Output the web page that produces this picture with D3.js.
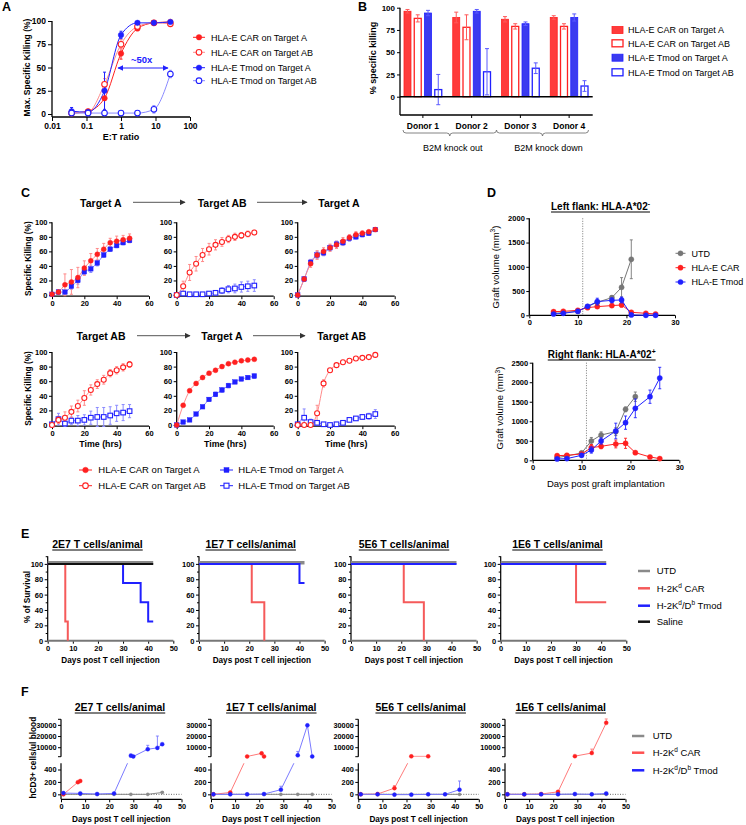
<!DOCTYPE html>
<html><head><meta charset="utf-8">
<script src="https://cdn.jsdelivr.net/npm/d3@7/dist/d3.min.js"></script>
<style>html,body{margin:0;padding:0;background:#fff;}</style>
</head><body>
<script>
// ================= DATA =================
// Panel A
const aRatios=[0.037,0.111,0.333,1,3,9,27];
const aCarA=[1,3,17,65,92,98,99];
const aCarAErr=[1,2,14,6,2,1,1];
const aCarAB=[1,2,32,75,94,98,97];
const aCarABErr=[1,2,6,5,2,1,1];
const aTmodA=[3,2,25,85,98,98,99];
const aTmodAErr=[4,1,20,4,1,1,1];
const aTmodAB=[1,1,1,1,1,5,43];
const aTmodABErr=[1,1,1,1,1,4,4];
const aXTicks=[0.01,0.1,1,10,100];
const aYTicks=[0,25,50,75,100];
const seriesNames=["HLA-E CAR on Target A","HLA-E CAR on Target AB","HLA-E Tmod on Target A","HLA-E Tmod on Target AB"];

// Panel B
const bDonors=["Donor 1","Donor 2","Donor 3","Donor 4"];
const bCarA=[96,89,87,89], bCarAErr=[2,6,3,2];
const bCarAB=[88,78,79,79], bCarABErr=[4,14,3,3];
const bTmodA=[94,96,82,89], bTmodAErr=[3,2,2,4];
const bTmodAB=[8,28,32,12], bTmodABErr=[17,26,6,6];
const bYTicks=[0,25,50,75,100];
const bGroups=["B2M knock out","B2M knock down"];

// Panel C
const cTimes=[0,4,8,12,16,20,24,28,32,36,40,44,48];
const cXTicks=[0,20,40,60];
const cYTicks=[0,20,40,60,80,100];
const cTitles=[["Target A","Target AB","Target A"],["Target AB","Target A","Target AB"]];
// row 1
const c1CarA=[1,4,14,18,24,37,47,56,63,72,74,76,78],   c1CarAErr=[1,3,15,17,14,10,10,8,8,6,7,6,6];
const c1TmodA=[1,4,4,12,20,32,36,44,55,63,68,72,75],   c1TmodAErr=[1,2,2,4,5,4,5,4,3,3,3,3,3];
const c2CarAB=[0,12,31,43,55,63,69,73,77,80,82,84,86], c2CarABErr=[1,7,11,10,9,8,7,6,5,5,4,4,3];
const c2TmodAB=[0,2,1,1,1,2,3,6,8,9,11,12,13],         c2TmodABErr=[1,2,1,1,1,2,3,4,5,6,7,7,8];
const c3CarA=[0,22,43,55,60,65,69,74,79,83,85,87,90],  c3CarAErr=[1,3,5,6,5,5,5,5,4,4,3,2,2];
const c3TmodA=[0,22,45,55,58,65,70,72,78,80,83,85,90], c3TmodAErr=[1,3,4,5,4,4,4,4,4,3,3,3,2];
// row 2
const c4CarAB=[0,7,10,18,26,37,48,56,62,71,75,79,83],  c4CarABErr=[1,5,8,8,8,10,7,6,6,5,5,5,4];
const c4TmodAB=[1,8,2,6,6,7,10,11,11,13,16,17,19],     c4TmodABErr=[1,8,4,5,7,7,9,13,13,12,11,11,9];
const c5CarA=[0,27,47,57,65,71,75,80,84,86,88,89,90],  c5CarAErr=[1,2,2,2,2,2,2,2,1,1,1,1,1];
const c5TmodA=[0,4,7,15,25,35,42,48,54,59,63,65,67],   c5TmodAErr=[1,2,2,2,2,2,3,3,3,2,2,2,3];
const c6CarAB=[0,0,0,16,57,75,82,86,88,91,92,93,96],   c6CarABErr=[1,1,1,11,5,2,2,2,1,1,1,1,1];
const c6TmodAB=[1,10,4,3,1,0,1,3,7,9,11,12,15],        c6TmodABErr=[1,12,4,3,1,1,1,1,2,2,3,4,6];

// Panel D
const dDays=[5,7,10,12,14,17,19,21,24,26];
const dDaysUTD=[5,7,10,12,14,17,19,21];
const dNames=["UTD","HLA-E CAR","HLA-E Tmod"];
const dLeftUTD=[41,55,82,179,268,364,577,1155],       dLeftUTDErr=[10,10,15,30,40,40,200,400];
const dLeftCAR=[75,82,103,158,179,200,213,62,41,27],  dLeftCARErr=[15,15,15,30,30,30,40,10,10,10];
const dLeftTmod=[27,41,82,185,282,309,316,7,0,0],     dLeftTmodErr=[10,10,15,30,70,50,60,5,2,2];
const dRightUTD=[68,111,188,495,648,734,1305,1629],   dRightUTDErr=[20,20,40,90,80,100,60,120];
const dRightCAR=[119,128,162,324,358,418,435,196,85,43], dRightCARErr=[20,20,30,80,60,100,130,30,20,10];
const dRightTmod=[34,43,128,264,495,751,964,1331,1629,2107], dRightTmodErr=[10,15,40,80,80,200,170,240,170,275];
const dLeftTicks=[0,500,1000,1500,2000];
const dRightTicks=[0,500,1000,1500,2000,2500];
const dXTicks=[0,10,20,30];
const dTreatDay=11;

// Panel E
const eTitles=["2E7 T cells/animal","1E7 T cells/animal","5E6 T cells/animal","1E6 T cells/animal"];
const eUtdT=[0,42], eUtdS=[100,100];
const eSalineT=[0,42], eSalineS=[100,100];
const eCarT=[[0,7,8],[0,21,26],[0,21,29],[0,30,42]];
const eCarS=[[100,25,0],[100,50,0],[100,50,0],[100,50,50]];
const eTmodT=[[0,30,37,40,42],[0,40,42],[0,42],[0,42]];
const eTmodS=[[100,75,50,25,25],[100,75,75],[100,100],[100,100]];
const eXTicks=[0,10,20,30,40,50];
const eYTicks=[0,20,40,60,80,100];
const eYMinor=[10,30,50,70,90,110];

// Panel F
const fGrayDays=[1,8,15,22,29,36,42];
const fGrayVals=[[0,0,0,0,0,0,30],[0,0,0,0,0,0,0],[0,0,0,0,0,0,0],[0,0,0,0,0,0,0]];
const fGrayErr=[[0,0,0,0,0,0,15],[0,0,0,0,0,0,0],[0,0,0,0,0,0,0],[0,0,0,0,0,0,0]];
const fRedDays=[[1,7,8],[1,8,15,21,22],[1,8,15,22,29],[1,8,15,22,29,36,42]];
const fRedVals=[[0,195,215],[0,30,1700,4500,1700],[0,5,100,1800,1800],[0,0,5,40,2000,4800,31800]];
const fRedErr=[[0,10,10],[0,10,0,0,0],[0,0,40,0,0],[0,0,0,10,0,3500,3500]];
const fBlueDays=[[1,8,15,22,29,30,36,40,42],[1,8,15,22,29,36,40,42],[1,8,15,22,29,36,42],[1,8,15,22,29,36,42]];
const fBlueVals=[[20,15,5,15,2400,1700,8200,9400,12700],[0,0,0,5,75,2700,29600,1700],[0,0,-5,-5,0,0,75],[0,0,0,0,5,0,15]];
const fBlueErr=[[5,5,3,5,1500,0,3500,10600,0],[0,0,0,0,55,3500,0,0],[0,0,0,0,0,0,140],[0,0,0,0,0,0,8]];
const fTopTicks=[10000,20000,30000];
const fBotTicks=[0,200,400];
const fXTicks=[0,10,20,30,40,50];

// ================= DRAWING =================
const FONT='"Liberation Sans", Arial, Helvetica, sans-serif';
const RED='#ff2020', BLUE='#2020ff', LRED='#ff8a8a', LBLUE='#8a8aff', GRAY='#767676';
const svg=d3.select('body').append('svg').attr('width',746).attr('height',825)
  .attr('font-family',FONT).style('display','block');
const defs=svg.append('defs');
function arrowDef(id,color){
  defs.append('marker').attr('id',id).attr('viewBox','0 0 10 10').attr('refX',9).attr('refY',5)
    .attr('markerWidth',6).attr('markerHeight',6).attr('orient','auto-start-reverse')
    .attr('markerUnits','userSpaceOnUse').append('path').attr('d','M0,0L10,5L0,10z').attr('fill',color);
}
arrowDef('arrK','#333'); arrowDef('arrB',BLUE);

function T(g,x,y,s,o={}){
  const size=o.size||9;
  const t=g.append('text').attr('font-size',size).attr('font-weight',o.bold?'bold':'normal')
    .attr('fill',o.fill||'#000').attr('text-anchor',o.anchor||'start').text(s);
  if(o.rotate){t.attr('transform',`translate(${x},${y}) rotate(-90)`).attr('text-anchor','middle');}
  else t.attr('x',x).attr('y',y);
  return t;
}
function rich(g,x,y,parts,o={}){
  const size=o.size||9;
  const t=T(g,x,y,'',o);
  let up=false;
  parts.forEach(p=>{
    const sup=Array.isArray(p); const s=sup?p[0]:p;
    const ts=t.append('tspan').text(s);
    if(sup){ts.attr('font-size',size*0.68); if(!up){ts.attr('dy',-size*0.4); up=true;}}
    else if(up){ts.attr('dy',size*0.4); up=false;}
  });
  return t;
}
function vline(g,x,y1,y2,o={}){return g.append('line').attr('x1',x).attr('x2',x).attr('y1',y1).attr('y2',y2).attr('stroke',o.stroke||'#000').attr('stroke-width',o.w||1).attr('stroke-dasharray',o.dash||null);}
function hline(g,x1,x2,y,o={}){return g.append('line').attr('x1',x1).attr('x2',x2).attr('y1',y).attr('y2',y).attr('stroke',o.stroke||'#000').attr('stroke-width',o.w||1).attr('stroke-dasharray',o.dash||null);}
function styleAx(sel,fs,bold=true){
  sel.attr('font-family',FONT).attr('font-size',fs).attr('font-weight',bold?'bold':'normal');
  sel.select('.domain').remove();
  sel.selectAll('.tick line').attr('stroke','#000').attr('stroke-width',1);
  sel.selectAll('.tick text').attr('fill','#000');
  return sel;
}
function marker(g,shape,x,y,color,open,r){
  if(shape==='square'){
    g.append('rect').attr('x',x-r).attr('y',y-r).attr('width',2*r).attr('height',2*r)
      .attr('fill',open?'#fff':color).attr('stroke',color).attr('stroke-width',open?1.1:0.4);
  } else {
    g.append('circle').attr('cx',x).attr('cy',y).attr('r',r)
      .attr('fill',open?'#fff':color).attr('stroke',color).attr('stroke-width',open?1.1:0.4);
  }
}
function errbar(g,x,y1,y2,color,cap,w){
  g.append('line').attr('x1',x).attr('x2',x).attr('y1',y1).attr('y2',y2).attr('stroke',color).attr('stroke-width',w||1);
  [y1,y2].forEach(yy=>g.append('line').attr('x1',x-cap/2).attr('x2',x+cap/2).attr('y1',yy).attr('y2',yy).attr('stroke',color).attr('stroke-width',w||1));
}
function uTitle(g,cx,by,parts,size){
  const t=rich(g,cx,by,parts,{size:size,bold:true,anchor:'middle'});
  const w=t.node().getComputedTextLength();
  hline(g,cx-w/2,cx+w/2,by+2,{w:1});
  return t;
}
function arrow(g,x1,x2,y,id,color){
  g.append('line').attr('x1',x1).attr('x2',x2).attr('y1',y).attr('y2',y).attr('stroke',color).attr('stroke-width',1)
    .attr('marker-end',`url(#${id})`);
}

// ---------- Panel A ----------
(function(){
  const g=svg.append('g');
  T(g,2,11,'A',{size:12.5,bold:true});
  const x=d3.scaleLog().domain([0.01,100]).range([52,190]);
  const y=d3.scaleLinear().domain([0,100]).range([114,21]);
  const axY=117;
  styleAx(g.append('g').attr('transform','translate(52,0)').call(d3.axisLeft(y).tickValues(aYTicks).tickSize(4).tickPadding(2).tickSizeOuter(0)),8.5);
  styleAx(g.append('g').attr('transform',`translate(0,${axY})`).call(d3.axisBottom(x).tickValues(aXTicks).tickFormat(d3.format('~g')).tickSize(4).tickPadding(2).tickSizeOuter(0)),8.5);
  vline(g,52,21,axY,{w:1.3}); hline(g,52,190,axY,{w:1.3});
  T(g,121,140,'E:T ratio',{size:9,bold:true,anchor:'middle'});
  T(g,29.8,67.5,'Max. Specific Killing (%)',{size:8.5,bold:true,rotate:true});
  const ser=[{v:aCarA,e:aCarAErr,c:RED,lc:RED,open:false},{v:aCarAB,e:aCarABErr,c:RED,lc:LRED,open:true},
             {v:aTmodA,e:aTmodAErr,c:BLUE,lc:BLUE,open:false},{v:aTmodAB,e:aTmodABErr,c:BLUE,lc:LBLUE,open:true}];
  const line=d3.line().x(d=>x(d[0])).y(d=>y(d[1])).curve(d3.curveMonotoneX);
  ser.forEach(s=>{
    const pts=aRatios.map((r,i)=>[r,s.v[i],s.e[i]]);
    g.append('path').datum(pts).attr('d',line).attr('fill','none').attr('stroke',s.lc).attr('stroke-width',1);
    pts.forEach(d=>errbar(g,x(d[0]),y(Math.max(d[1]-d[2],-2)),y(d[1]+d[2]),s.lc,3,1));
  });
  ser.forEach(s=>aRatios.forEach((r,i)=>marker(g,'circle',x(r),y(s.v[i]),s.c,s.open,2.8)));
  g.append('line').attr('x1',118).attr('x2',168).attr('y1',68).attr('y2',68).attr('stroke',BLUE).attr('stroke-width',1)
    .attr('marker-start','url(#arrB)').attr('marker-end','url(#arrB)');
  T(g,141.7,63.4,'~50x',{size:9.5,bold:true,anchor:'middle',fill:BLUE});
  const rows=[37.3,52.3,67.7,80.7];
  ser.forEach((s,i)=>{
    hline(g,193,205,rows[i],{stroke:s.lc});
    marker(g,'circle',199,rows[i],s.c,s.open,2.8);
    T(g,211,rows[i]+3.2,seriesNames[i],{size:9});
  });
})();

// ---------- Panel B ----------
(function(){
  const g=svg.append('g');
  T(g,358,10.5,'B',{size:12.5,bold:true});
  const y=d3.scaleLinear().domain([-20,100]).range([114.5,7.7]);
  const x=d3.scaleBand().domain(bDonors).range([398.5,593.5]);
  const xi=d3.scaleBand().domain(seriesNames).range([5.5,43.25]).paddingInner(0.32);
  styleAx(g.append('g').attr('transform','translate(400,0)').call(d3.axisLeft(y).tickValues(bYTicks).tickSize(3).tickPadding(2).tickSizeOuter(0)),8);
  vline(g,400,7.7,115,{w:1.3}); hline(g,400,592.7,115,{w:1.3});
  T(g,376.3,58,'% specific killing',{size:9,bold:true,rotate:true});
  const vals=[bCarA,bCarAB,bTmodA,bTmodAB], errs=[bCarAErr,bCarABErr,bTmodAErr,bTmodABErr];
  const cols=[RED,RED,BLUE,BLUE], fills=['#ff3b3b','#fff','#3b3bef','#fff'], open=[false,true,false,true];
  const ecols=['#ff5a5a','#ff5a5a','#5a5aff','#5a5aff'];
  seriesNames.forEach((s,si)=>bDonors.forEach((d,di)=>{
    const bx=x(d)+xi(s), bw=xi.bandwidth(), v=vals[si][di], e=errs[si][di];
    g.append('rect').attr('x',bx).attr('y',y(v)).attr('width',bw).attr('height',y(0)-y(v))
      .attr('fill',fills[si]).attr('stroke',cols[si]).attr('stroke-width',open[si]?1.3:0.8);
    errbar(g,bx+bw/2,y(v-e),y(v+e),ecols[si],4,1);
  }));
  hline(g,400,592.7,y(0),{w:1.6});
  bDonors.forEach(d=>{
    const cx=x(d)+x.bandwidth()/2;
    vline(g,cx,115,118,{w:1});
    T(g,cx,129,d,{size:8.5,bold:true,anchor:'middle'});
  });
  function brace(x1,x2,yy){
    const xc=(x1+x2)/2;
    g.append('path').attr('d',`M${x1},${yy-3}Q${x1},${yy} ${x1+3},${yy}L${xc-3},${yy}Q${xc},${yy} ${xc},${yy+3}Q${xc},${yy} ${xc+3},${yy}L${x2-3},${yy}Q${x2},${yy} ${x2},${yy-3}`)
      .attr('fill','none').attr('stroke','#666').attr('stroke-width',0.8);
    return xc;
  }
  const c1=brace(x('Donor 1')+4.5,x('Donor 2')+x.bandwidth()+0.5,133);
  const c2=brace(x('Donor 3')+0.5,x('Donor 4')+x.bandwidth()-5,133);
  T(g,c1+3,151.2,bGroups[0],{size:9,anchor:'middle'});
  T(g,c2+6,151.2,bGroups[1],{size:9,anchor:'middle'});
  const rows=[30,43.3,57.7,72.3];
  seriesNames.forEach((s,i)=>{
    g.append('rect').attr('x',612).attr('y',rows[i]-3.5).attr('width',11).attr('height',7)
      .attr('fill',fills[i]).attr('stroke',cols[i]).attr('stroke-width',open[i]?1.3:0.8);
    T(g,628,rows[i]+3.2,s,{size:9});
  });
})();

// ---------- Panel C ----------
(function(){
  const g=svg.append('g');
  T(g,21,196.5,'C',{size:12.5,bold:true});
  const sty={
    CarA:{c:RED,lc:LRED,shape:'circle',open:false},
    CarAB:{c:RED,lc:LRED,shape:'circle',open:true},
    TmodA:{c:BLUE,lc:LBLUE,shape:'square',open:false},
    TmodAB:{c:BLUE,lc:LBLUE,shape:'square',open:true}
  };
  const xs=[52,176.7,297.7];
  const rowsY=[[222.3,295],[352,425]];
  const panels=[
    [[['TmodA',c1TmodA,c1TmodAErr],['CarA',c1CarA,c1CarAErr]],
     [['TmodAB',c2TmodAB,c2TmodABErr],['CarAB',c2CarAB,c2CarABErr]],
     [['TmodA',c3TmodA,c3TmodAErr],['CarA',c3CarA,c3CarAErr]]],
    [[['TmodAB',c4TmodAB,c4TmodABErr],['CarAB',c4CarAB,c4CarABErr]],
     [['TmodA',c5TmodA,c5TmodAErr],['CarA',c5CarA,c5CarAErr]],
     [['TmodAB',c6TmodAB,c6TmodABErr],['CarAB',c6CarAB,c6CarABErr]]]
  ];
  const W=97;
  panels.forEach((row,ri)=>{
    const [yTop,yBot]=rowsY[ri];
    const axY=yBot+1.2;
    row.forEach((sers,ci)=>{
      const x0=xs[ci];
      const x=d3.scaleLinear().domain([0,60]).range([x0,x0+W]);
      const y=d3.scaleLinear().domain([0,100]).range([yBot,yTop]);
      styleAx(g.append('g').attr('transform',`translate(${x0},0)`).call(d3.axisLeft(y).tickValues(cYTicks).tickSize(3).tickPadding(1.5).tickSizeOuter(0)),7.5);
      styleAx(g.append('g').attr('transform',`translate(0,${axY})`).call(d3.axisBottom(x).tickValues(cXTicks).tickSize(3).tickPadding(1.5).tickSizeOuter(0)),7.5);
      vline(g,x0,yTop,axY,{w:1.3}); hline(g,x0,x0+W,axY,{w:1.3});
      const line=d3.line().x(d=>x(d[0])).y(d=>y(d[1])).curve(d3.curveMonotoneX);
      sers.forEach(([k,v,e])=>{
        const s=sty[k];
        const pts=cTimes.map((t,i)=>[t,v[i],e[i]]);
        g.append('path').datum(pts).attr('d',line).attr('fill','none').attr('stroke',s.lc).attr('stroke-width',1);
        pts.forEach(d=>errbar(g,x(d[0]),y(Math.max(d[1]-d[2],-2)),y(d[1]+d[2]),s.lc,3,1));
      });
      sers.forEach(([k,v])=>{
        const s=sty[k];
        cTimes.forEach((t,i)=>marker(g,s.shape,x(t),y(v[i]),s.c,s.open,s.shape==='square'?2.3:2.5));
      });
      if(ri===1) T(g,x0+W/2,447,'Time (hrs)',{size:8.8,bold:true,anchor:'middle'});
      if(ci===0) T(g,31,(yTop+yBot)/2,'Specific Killing (%)',{size:8.3,bold:true,rotate:true});
    });
  });
  const tX=[[100.8,222.2,339],[101,222,341.7]];
  const tY=[206.5,339.5];
  const arr=[[[133,185],[257,307]],[[137,190],[253,305]]];
  const arrY=[202.3,335.7];
  cTitles.forEach((row,ri)=>{
    row.forEach((s,ci)=>T(g,tX[ri][ci],tY[ri],s,{size:10.5,bold:true,anchor:'middle'}));
    arr[ri].forEach(a=>arrow(g,a[0],a[1],arrY[ri],'arrK','#555'));
  });
  const legs=[['CarA',79,98.3,470],['CarAB',79,98.3,485.7],['TmodA',220,238.3,470],['TmodAB',220,238.3,485.7]];
  legs.forEach(([k,lx,tx,ly],i)=>{
    const s=sty[k];
    hline(g,lx,lx+13,ly,{stroke:s.c});
    marker(g,s.shape,lx+6.5,ly,s.c,s.open,s.shape==='square'?2.5:2.8);
    T(g,tx,ly+3.3,seriesNames[i],{size:9.5});
  });
})();

// ---------- Panel D ----------
(function(){
  const g=svg.append('g');
  T(g,487,197,'D',{size:12.5,bold:true});
  const cols=[GRAY,RED,BLUE];
  function sub(cfg){
    const x=d3.scaleLinear().domain([0,30]).range([cfg.x0,cfg.x1]);
    const y=d3.scaleLinear().domain([0,cfg.max]).range([cfg.yBot,cfg.yTop]);
    styleAx(g.append('g').attr('transform',`translate(${cfg.x0},0)`).call(d3.axisLeft(y).tickValues(cfg.ticks).tickFormat(d3.format('d')).tickSize(3).tickPadding(1.5).tickSizeOuter(0)),7.5);
    styleAx(g.append('g').attr('transform',`translate(0,${cfg.yBot})`).call(d3.axisBottom(x).tickValues(dXTicks).tickSize(3).tickPadding(1.5).tickSizeOuter(0)),7.5);
    vline(g,cfg.x0,cfg.yTop,cfg.yBot,{w:1.3}); hline(g,cfg.x0,cfg.x1,cfg.yBot,{w:1.3});
    vline(g,x(dTreatDay),cfg.yTop,cfg.yBot,{stroke:'#555',w:0.8,dash:'1,1.5'});
    const line=d3.line().x(d=>x(d[0])).y(d=>y(d[1]));
    cfg.series.forEach((s,si)=>{
      const pts=s.days.map((d,i)=>[d,s.vals[i],s.err[i]]);
      g.append('path').datum(pts).attr('d',line).attr('fill','none').attr('stroke',cols[si]).attr('stroke-width',1);
      pts.forEach(d=>{ if(d[2]>0) errbar(g,x(d[0]),y(Math.max(d[1]-d[2],0)),y(d[1]+d[2]),cols[si],3,0.9); });
      pts.forEach(d=>marker(g,'circle',x(d[0]),y(d[1]),cols[si],false,2.6));
    });
    uTitle(g,cfg.tx,cfg.ty,cfg.title,10);
    rich(g,cfg.lx,cfg.ly,['Graft volume (mm',['3'],')'],{size:9.5,rotate:true});
  }
  sub({x0:529.3,x1:675,yBot:315.3,yTop:218.3,max:2000,ticks:dLeftTicks,tx:600.5,ty:210,lx:499,ly:267,
       title:['Left flank: HLA-A*02',['-']],
       series:[{days:dDaysUTD,vals:dLeftUTD,err:dLeftUTDErr},{days:dDays,vals:dLeftCAR,err:dLeftCARErr},{days:dDays,vals:dLeftTmod,err:dLeftTmodErr}]});
  sub({x0:532.7,x1:679.3,yBot:460.3,yTop:362.7,max:2500,ticks:dRightTicks,tx:601.7,ty:358,lx:503.3,ly:408,
       title:['Right flank: HLA-A*02',['+']],
       series:[{days:dDaysUTD,vals:dRightUTD,err:dRightUTDErr},{days:dDays,vals:dRightCAR,err:dRightCARErr},{days:dDays,vals:dRightTmod,err:dRightTmodErr}]});
  T(g,605.8,486.7,'Days post graft implantation',{size:9.5,anchor:'middle'});
  const rows=[253.3,267.7,282];
  dNames.forEach((n,i)=>{
    hline(g,675.5,685.5,rows[i],{stroke:cols[i]});
    marker(g,'circle',680.5,rows[i],cols[i],false,2.6);
    T(g,691.5,rows[i]+3.3,n,{size:9});
  });
})();

// ---------- Panel E ----------
(function(){
  const g=svg.append('g');
  T(g,21,538,'E',{size:12.5,bold:true});
  const xs=[47.7,199,351,500.7], tcx=[97.5,250.7,404,557.5];
  const W=125.6, yBot=640.7, yTop=556.2;
  const ERED='#f55a5a', EBLUE='#2020ff', EGRAY='#8a8a8a';
  xs.forEach((x0,i)=>{
    const x=d3.scaleLinear().domain([0,50]).range([x0,x0+W]);
    const y=d3.scaleLinear().domain([0,110]).range([yBot,yTop]);
    styleAx(g.append('g').attr('transform',`translate(${x0},0)`).call(d3.axisLeft(y).tickValues(eYTicks).tickSize(3).tickPadding(1.5).tickSizeOuter(0)),7.5);
    styleAx(g.append('g').attr('transform',`translate(${x0},0)`).call(d3.axisLeft(y).tickValues(eYMinor).tickSize(2).tickFormat('').tickSizeOuter(0)),7.5);
    styleAx(g.append('g').attr('transform',`translate(0,${yBot})`).call(d3.axisBottom(x).tickValues(eXTicks).tickSize(3).tickPadding(1.5).tickSizeOuter(0)),7.5);
    vline(g,x0,yTop,yBot,{w:1.2});
    hline(g,x0,x0+W,yBot,{w:2,stroke:'#777'});
    const step=d3.line().x(d=>x(d[0])).y(d=>y(d[1])).curve(d3.curveStepAfter);
    const mk=(T_,S_)=>T_.map((t,j)=>[t,S_[j]]);
    g.append('path').datum(mk(eUtdT,eUtdS)).attr('d',step).attr('transform','translate(0,-1.2)').attr('fill','none').attr('stroke',EGRAY).attr('stroke-width',3.5);
    g.append('path').datum(mk(eCarT[i],eCarS[i])).attr('d',step).attr('fill','none').attr('stroke',ERED).attr('stroke-width',2);
    g.append('path').datum(mk(eTmodT[i],eTmodS[i])).attr('d',step).attr('fill','none').attr('stroke',EBLUE).attr('stroke-width',2);
    if(i===0) g.append('path').datum(mk(eSalineT,eSalineS)).attr('d',step).attr('fill','none').attr('stroke','#111').attr('stroke-width',2);
    uTitle(g,tcx[i],548,[eTitles[i]],10.5);
    T(g,x0+W/2,663,'Days post T cell injection',{size:8.2,bold:true,anchor:'middle'});
  });
  T(g,29.7,597,'% of Survival',{size:8.3,bold:true,rotate:true});
  const rows=[571,588.3,605.7,621.7];
  const lc=[EGRAY,ERED,EBLUE,'#111'];
  const labels=[['UTD'],['H-2K',['d'],' CAR'],['H-2K',['d'],'/D',['b'],' Tmod'],['Saline']];
  labels.forEach((p,i)=>{
    hline(g,638,650,rows[i],{stroke:lc[i],w:2.5});
    rich(g,656.7,rows[i]+3.3,p,{size:9.5});
  });
})();

// ---------- Panel F ----------
(function(){
  const g=svg.append('g');
  T(g,21,696,'F',{size:12.5,bold:true});
  const xs=[61,211,358.3,505], tcx=[120,271.3,420.7,560.7];
  const W=120.5;
  const topB=756.7, topT=719.3, botT=763.3, botB=799.3;
  const yT=d3.scaleLinear().domain([1500,35000]).range([topB,topT]);
  const yB=d3.scaleLinear().domain([-80,500]).range([botB,botT]);
  const fy=v=> v<=500?yB(v):(v>=1500?yT(v):botT+(v-500)/1000*(topB-botT));
  const FR='#ff2020', FB='#2020ff', FRL='#ff7a7a', FBL='#7a7aff', FG='#8a8a8a';
  xs.forEach((x0,i)=>{
    const x=d3.scaleLinear().domain([0,50]).range([x0,x0+W]);
    const cid='fclip'+i;
    const cp=defs.append('clipPath').attr('id',cid);
    cp.append('rect').attr('x',x0-4).attr('y',topT-4).attr('width',W+8).attr('height',topB-topT+4);
    cp.append('rect').attr('x',x0-4).attr('y',botT).attr('width',W+8).attr('height',botB-botT+4);
    styleAx(g.append('g').attr('transform',`translate(${x0},0)`).call(d3.axisLeft(yT).tickValues(fTopTicks).tickFormat(d3.format('d')).tickSize(3).tickPadding(1.5).tickSizeOuter(0)),7.3);
    styleAx(g.append('g').attr('transform',`translate(${x0},0)`).call(d3.axisLeft(yB).tickValues(fBotTicks).tickFormat(d3.format('d')).tickSize(3).tickPadding(1.5).tickSizeOuter(0)),7.3);
    styleAx(g.append('g').attr('transform',`translate(0,${botB})`).call(d3.axisBottom(x).tickValues(fXTicks).tickSize(3).tickPadding(1.5).tickSizeOuter(0)),7.3);
    vline(g,x0,topT,topB,{w:1.2}); vline(g,x0,botT,botB,{w:1.2});
    hline(g,x0,x0-3,topB,{w:1}); hline(g,x0,x0-3,topT,{w:1});
    hline(g,x0,x0+W,botB,{w:1.2});
    hline(g,x0,x0+W,fy(0),{stroke:'#444',w:0.8,dash:'1,1.5'});
    const line=d3.line().x(d=>x(d[0])).y(d=>fy(d[1]));
    const sers=[
      {days:fGrayDays,vals:fGrayVals[i],err:fGrayErr[i],c:FG,lc:FG,r:1.6},
      {days:fRedDays[i],vals:fRedVals[i],err:fRedErr[i],c:FR,lc:FRL,r:2},
      {days:fBlueDays[i],vals:fBlueVals[i],err:fBlueErr[i],c:FB,lc:FBL,r:2}
    ];
    sers.forEach(s=>{
      const pts=s.days.map((d,j)=>[d,s.vals[j],s.err[j]]);
      g.append('path').datum(pts).attr('d',line).attr('clip-path',`url(#${cid})`).attr('fill','none').attr('stroke',s.lc).attr('stroke-width',1);
      pts.forEach(d=>{ if(d[2]>0) errbar(g,x(d[0]),fy(d[1]),fy(d[1]+d[2]),s.lc,3,0.9); });
      pts.forEach(d=>marker(g,'circle',x(d[0]),fy(d[1]),s.c,false,s.r));
    });
    uTitle(g,tcx[i],711,[eTitles[i]],10.5);
    T(g,x0+W/2,822,'Days post T cell injection',{size:8.2,bold:true,anchor:'middle'});
  });
  T(g,35.7,757.7,'hCD3+ cells/ul blood',{size:8.3,bold:true,rotate:true});
  const rows=[736,752.7,770.3];
  const lc=['#8a8a8a','#ff5050','#2020ff'];
  const labels=[['UTD'],['H-2K',['d'],' CAR'],['H-2K',['d'],'/D',['b'],' Tmod']];
  labels.forEach((p,i)=>{
    hline(g,632,644.3,rows[i],{stroke:lc[i],w:2.5});
    rich(g,652.7,rows[i]+3.3,p,{size:9.5});
  });
})();
</script>
</body></html>
